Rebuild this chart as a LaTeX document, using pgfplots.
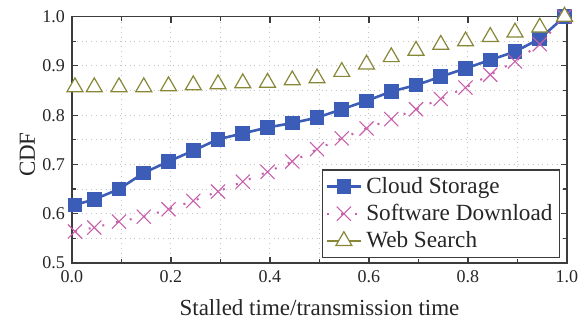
\documentclass[border=0pt]{standalone}
\usepackage{fontspec}
\setmainfont{Liberation Serif}
\usepackage{pgfplots}
\pgfplotsset{compat=1.18}
\definecolor{cblue}{RGB}{59,93,184}
\definecolor{cmag}{RGB}{200,95,170}
\definecolor{colive}{RGB}{135,135,55}
\definecolor{cgrid}{RGB}{195,195,195}
\definecolor{caxis}{RGB}{60,60,60}
\begin{document}
\begin{tikzpicture}
\path[use as bounding box] (-36pt,-30pt) rectangle (254pt,131.5pt);
\begin{axis}[
  at={(0,0)}, anchor=south west,
  scale only axis, width=247.5pt, height=123.2pt,
  xmin=0, xmax=1, ymin=0.5, ymax=1.0,
  xtick={0,0.2,0.4,0.6,0.8,1.0}, minor xtick={0.1,0.3,0.5,0.7,0.9},
  ytick={0.5,0.6,0.7,0.8,0.9,1.0}, minor ytick={0.55,0.65,0.75,0.85,0.95},
  grid=both, grid style={cgrid, dotted, line width=0.5pt},
  tick align=inside, major tick length=3pt, minor tick length=2pt,
  axis line style={caxis, line width=0.7pt},
  every tick/.style={caxis, line width=0.6pt},
  /pgf/number format/assume math mode=true,
  ticklabel style={font=\fontsize{9}{10}\selectfont, text=black!85},
  xticklabel style={/pgf/number format/.cd, fixed, fixed zerofill, precision=1},
  yticklabel style={/pgf/number format/.cd, fixed, fixed zerofill, precision=1},
  xlabel={Stalled time/transmission time},
  ylabel={CDF},
  label style={font=\fontsize{11.5}{13}\selectfont, text=black!85},
  xlabel style={at={(axis description cs:0.5,0)}, anchor=base, yshift=-26pt},
  ylabel style={at={(axis description cs:0,0.44)}, anchor=base, yshift=18.5pt},
  legend style={at={(0.986,0.02)}, anchor=south east, draw=caxis, line width=0.6pt,
    font=\fontsize{11.6}{14}\selectfont, text=black!85, inner sep=1.5pt},
  legend cell align=left,
]
\addplot[cblue, line width=1.3pt, mark=square*, mark size=3pt, mark options={solid, fill=cblue}]
coordinates {
(0.006,0.618) (0.045,0.629) (0.095,0.650) (0.145,0.683) (0.195,0.706)
(0.245,0.728) (0.295,0.751) (0.345,0.763) (0.395,0.775) (0.445,0.784)
(0.495,0.795) (0.545,0.812) (0.595,0.829) (0.645,0.848) (0.695,0.861)
(0.745,0.878) (0.795,0.895) (0.845,0.912) (0.895,0.929) (0.945,0.955)
(0.995,1.000)
};
\addlegendentry{Cloud Storage}
\addplot[cmag, line width=1pt, dash pattern=on 1pt off 6pt, mark=x, mark size=5pt, mark options={solid, line width=0.55pt}]
coordinates {
(0.006,0.564) (0.045,0.572) (0.095,0.584) (0.145,0.594) (0.195,0.609)
(0.245,0.626) (0.295,0.645) (0.345,0.665) (0.395,0.685) (0.445,0.706)
(0.495,0.731) (0.545,0.753) (0.595,0.773) (0.645,0.792) (0.695,0.812)
(0.745,0.833) (0.795,0.856) (0.845,0.882) (0.895,0.909) (0.945,0.944)
(0.995,1.000)
};
\addlegendentry{Software Download}
\addplot[colive, only marks, line width=0.6pt, mark=triangle*, mark size=4.6pt, mark options={solid, fill=white},
  legend image code/.code={\draw[sharp plot, mark repeat=2, mark phase=2] plot coordinates {(0cm,0cm) (0.3cm,0cm) (0.6cm,0cm)};}]
coordinates {
(0.006,0.857) (0.045,0.857) (0.095,0.857) (0.145,0.857) (0.195,0.859)
(0.245,0.861) (0.295,0.863) (0.345,0.865) (0.395,0.866) (0.445,0.871)
(0.495,0.875) (0.545,0.888) (0.595,0.903) (0.645,0.918) (0.695,0.931)
(0.745,0.943) (0.795,0.950) (0.845,0.959) (0.895,0.968) (0.945,0.978)
(0.995,1.000)
};
\addlegendentry{Web Search}
\end{axis}
\end{tikzpicture}
\end{document}
